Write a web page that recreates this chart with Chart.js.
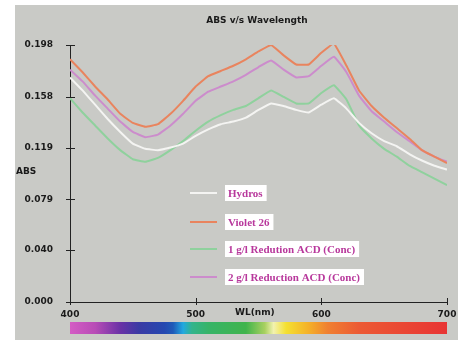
<!DOCTYPE html>
<html>
<head>
<meta charset="utf-8">
<script src="https://cdn.jsdelivr.net/npm/chart.js@4"></script>
<style>
  html, body { margin: 0; padding: 0; background: #fff; }
  #wrap { width: 468px; height: 345px; }
</style>
</head>
<body>
<div id="wrap"><canvas id="grafik" width="468" height="345"></canvas></div>
<script>
// wavelength (nm), every 10 nm
const wavelengths = [400, 410, 420, 430, 440, 450, 460, 470, 480, 490, 500, 510, 520, 530, 540, 550,
  560, 570, 580, 590, 600, 610, 620, 630, 640, 650, 660, 670, 680, 690, 700];

const hydros = [0.173, 0.163, 0.152, 0.141, 0.131, 0.122, 0.118, 0.117, 0.119, 0.122, 0.128, 0.133, 0.137, 0.139, 0.142, 0.148,
  0.153, 0.151, 0.148, 0.146, 0.152, 0.157, 0.149, 0.138, 0.130, 0.124, 0.120, 0.114, 0.109, 0.105, 0.102];
const violet26 = [0.187, 0.177, 0.166, 0.156, 0.145, 0.138, 0.135, 0.137, 0.145, 0.155, 0.166, 0.174, 0.178, 0.182, 0.187, 0.193,
  0.198, 0.190, 0.183, 0.183, 0.192, 0.199, 0.182, 0.163, 0.151, 0.142, 0.134, 0.126, 0.117, 0.112, 0.107];
const reduction1 = [0.157, 0.146, 0.136, 0.126, 0.117, 0.110, 0.108, 0.111, 0.117, 0.124, 0.132, 0.139, 0.144, 0.148, 0.151, 0.157,
  0.163, 0.158, 0.153, 0.153, 0.161, 0.167, 0.156, 0.136, 0.126, 0.118, 0.112, 0.105, 0.100, 0.095, 0.090];
const reduction2 = [0.179, 0.170, 0.159, 0.149, 0.139, 0.131, 0.127, 0.129, 0.136, 0.145, 0.155, 0.162, 0.166, 0.170, 0.175, 0.181,
  0.186, 0.179, 0.173, 0.174, 0.182, 0.189, 0.177, 0.159, 0.147, 0.139, 0.131, 0.124, 0.117, 0.112, 0.108];

const seriesNames = ["Hydros", "Violet 26", "1 g/l Redution ACD (Conc)", "2 g/l Reduction ACD (Conc)"];
const yTicks = [0, 0.040, 0.079, 0.119, 0.158, 0.198];
const xTicks = [400, 500, 600, 700];

const colors = ["#f4f4f2", "#e9845e", "#8fd19d", "#cc8ccc"];
const tickFont = { family: "DejaVu Sans", size: 9, weight: "bold" };

function pts(values) {
  return values.map((v, i) => ({ x: wavelengths[i], y: v }));
}

// spectrum strip colours
const spectrum = [
  [400, "#d45cc4"], [420, "#b84cb6"], [440, "#6a32a6"], [455, "#3a3aa4"], [475, "#2448b0"],
  [482, "#1e5ab8"], [490, "#22a8e0"], [497, "#32b48c"], [510, "#36b468"], [540, "#40b44c"],
  [555, "#a8d060"], [562, "#f2f2b0"], [572, "#f4e030"], [590, "#f4b028"], [605, "#f08030"],
  [630, "#ec5a34"], [700, "#e83434"]
];

const panel = {
  id: "panel",
  beforeDraw(chart) {
    const ctx = chart.ctx;
    ctx.save();
    ctx.fillStyle = "#ffffff";
    ctx.fillRect(0, 0, chart.width, chart.height);
    ctx.fillStyle = "#c9cac6";
    ctx.fillRect(15, 5, 443, 335);
    ctx.restore();
  },
  afterDraw(chart) {
    const ctx = chart.ctx;
    const xs = chart.scales.x, ys = chart.scales.y;
    ctx.save();
    // title
    ctx.fillStyle = "#1a1a1a";
    ctx.font = "bold 9px 'DejaVu Sans'";
    ctx.textAlign = "center";
    ctx.textBaseline = "middle";
    ctx.fillText("ABS v/s Wavelength", 257, 21);
    // axis titles
    ctx.textAlign = "left";
    ctx.fillText("ABS", 16, 172);
    ctx.fillText("WL(nm)", 235, 313);
    // cross ticks on axes
    ctx.strokeStyle = "#222";
    ctx.lineWidth = 1;
    yTicks.forEach(v => {
      const y = Math.round(ys.getPixelForValue(v)) + 0.5;
      ctx.beginPath();
      ctx.moveTo(xs.left - 4, y);
      ctx.lineTo(xs.left + 5, y);
      ctx.stroke();
    });
    xTicks.forEach(v => {
      const x = Math.round(xs.getPixelForValue(v)) + 0.5;
      ctx.beginPath();
      ctx.moveTo(x, ys.bottom - 4);
      ctx.lineTo(x, ys.bottom + 3);
      ctx.stroke();
    });
    // spectrum bar
    const x0 = xs.getPixelForValue(400), x1 = xs.getPixelForValue(700);
    const grad = ctx.createLinearGradient(x0, 0, x1, 0);
    spectrum.forEach(([nm, c]) => grad.addColorStop((nm - 400) / 300, c));
    ctx.fillStyle = grad;
    ctx.fillRect(x0, 322, x1 - x0, 12);
    // legend
    const rows = [193, 222, 249, 277];
    ctx.font = "bold 11px 'Liberation Serif'";
    ctx.textBaseline = "middle";
    chart.data.datasets.forEach((ds, i) => {
      const y = rows[i];
      ctx.strokeStyle = ds.borderColor;
      ctx.lineWidth = 2;
      ctx.beginPath();
      ctx.moveTo(190, y);
      ctx.lineTo(217, y);
      ctx.stroke();
      const w = ctx.measureText(ds.label).width;
      ctx.fillStyle = "#ffffff";
      ctx.fillRect(225, y - 8, w + 7, 16);
      ctx.fillStyle = "#b8389c";
      ctx.fillText(ds.label, 228, y + 1);
    });
    ctx.restore();
  }
};

new Chart(document.getElementById("grafik"), {
  type: "line",
  data: {
    datasets: [
      { label: seriesNames[0], data: pts(hydros), borderColor: colors[0] },
      { label: seriesNames[1], data: pts(violet26), borderColor: colors[1] },
      { label: seriesNames[2], data: pts(reduction1), borderColor: colors[2] },
      { label: seriesNames[3], data: pts(reduction2), borderColor: colors[3] },
    ].map(d => Object.assign(d, { borderWidth: 2, pointRadius: 0, tension: 0.1, fill: false })),
  },
  options: {
    responsive: false,
    animation: false,
    layout: { padding: { top: 45, right: 21, left: 0, bottom: 0 } },
    plugins: { legend: { display: false }, title: { display: false }, tooltip: { enabled: false } },
    scales: {
      x: {
        type: "linear",
        min: 400,
        max: 700,
        afterBuildTicks: (s) => { s.ticks = xTicks.map(v => ({ value: v })); },
        afterFit: (s) => { s.height = 43; },
        border: { display: true, color: "#222", width: 1 },
        grid: { display: false, drawTicks: false },
        ticks: { color: "#1a1a1a", font: tickFont, padding: 7, maxRotation: 0, callback: (v) => String(v) },
      },
      y: {
        min: 0,
        max: 0.198,
        afterBuildTicks: (s) => { s.ticks = yTicks.map(v => ({ value: v })); },
        afterFit: (s) => { s.width = 70; },
        border: { display: true, color: "#222", width: 1 },
        grid: { display: false, drawTicks: false },
        ticks: { color: "#1a1a1a", font: tickFont, padding: 17, callback: (v) => v.toFixed(3) },
      },
    },
  },
  plugins: [panel],
});
</script>
</body>
</html>
